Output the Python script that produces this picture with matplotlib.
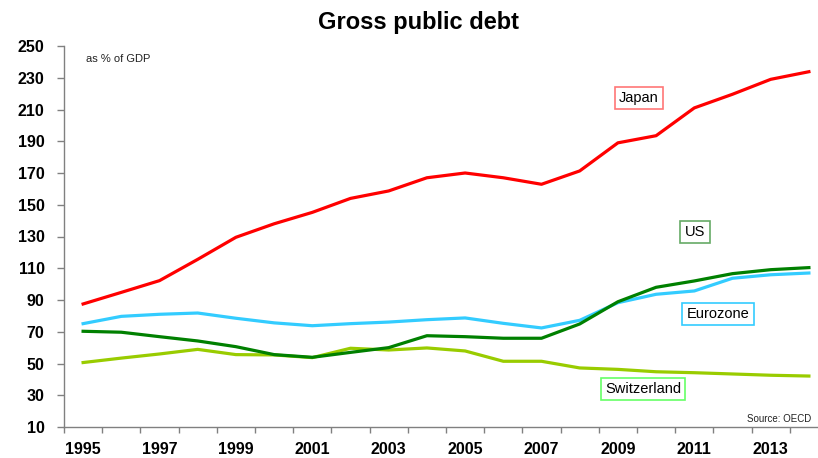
import matplotlib
matplotlib.use("Agg")
import matplotlib.pyplot as plt
from matplotlib.ticker import FixedLocator

plt.rcParams['font.family'] = ['Liberation Sans', 'DejaVu Sans']

years = list(range(1995, 2015))
japan = [87.5, 94.8, 102.2, 115.6, 129.5, 138.0, 145.2, 154.0, 158.7, 167.0,
         170.0, 167.0, 162.9, 171.3, 189.0, 193.5, 211.0, 219.6, 229.0, 233.8]
us = [70.3, 69.7, 66.9, 64.2, 60.6, 55.6, 53.9, 57.0, 60.0, 67.5,
      66.9, 65.9, 65.9, 74.9, 88.9, 98.0, 102.0, 106.6, 109.1, 110.4]
eurozone = [75.1, 79.7, 81.0, 81.8, 78.5, 75.6, 73.8, 75.1, 76.1, 77.6,
            78.7, 75.3, 72.4, 77.2, 88.3, 93.6, 95.7, 103.7, 105.9, 107.0]
switzerland = [50.6, 53.4, 56.0, 58.9, 55.6, 55.4, 53.7, 59.6, 58.5, 59.8,
               57.9, 51.4, 51.4, 47.2, 46.3, 44.8, 44.2, 43.4, 42.6, 42.1]
yticks = list(range(10, 251, 20))
xlabels = [str(y) for y in years[::2]]

W, H = 818, 458
fig = plt.figure(figsize=(W / 100, H / 100), dpi=100)
ax = fig.add_axes([64 / W, 31 / H, 764 / W, 381 / H])

x = list(range(len(years)))
ax.plot(x, switzerland, color='#99CC00', lw=2.3, solid_joinstyle='round', zorder=3)
ax.plot(x, eurozone, color='#33CCFF', lw=2.3, solid_joinstyle='round', zorder=4)
ax.plot(x, us, color='#008000', lw=2.3, solid_joinstyle='round', zorder=5)
ax.plot(x, japan, color='#FF0000', lw=2.3, solid_joinstyle='round', zorder=6)

ax.set_xlim(-0.5, len(years) - 0.5)
ax.set_ylim(10, 250)

for s in ('top', 'right'):
    ax.spines[s].set_visible(False)
for s in ('left', 'bottom'):
    ax.spines[s].set_color('#808080')
    ax.spines[s].set_linewidth(1.0)

ax.set_yticks(yticks)
ax.tick_params(axis='y', length=5, width=1, color='#808080', pad=9,
               labelsize=11.5)
for lab in ax.get_yticklabels():
    lab.set_fontweight('bold')

ax.set_xticks(x[::2])
ax.set_xticklabels(xlabels, fontweight='bold', fontsize=11.5)
ax.xaxis.set_minor_locator(FixedLocator([i - 0.5 for i in range(len(years) + 1)]))
ax.tick_params(axis='x', which='major', length=0, pad=11)
ax.tick_params(axis='x', which='minor', length=4, width=1, color='#808080')

fig.text(418 / W, 1 - 23 / H, 'Gross public debt', ha='center', va='center',
         fontsize=17, fontweight='bold')
ax.text(86 / W, 1 - 59 / H, 'as % of GDP', transform=fig.transFigure,
        ha='left', va='center', fontsize=8, color='#222222')
ax.text(811 / W, 1 - 419 / H, 'Source: OECD', transform=fig.transFigure,
        ha='right', va='center', fontsize=7, color='#222222')

labels = [
    ('Japan', 639, 98, '#FF7777'),
    ('US', 695, 232, '#66AA66'),
    ('Eurozone', 718, 314, '#33CCFF'),
    ('Switzerland', 643, 389, '#66FF66'),
]
for txt, px, py, ec in labels:
    fig.text(px / W, 1 - py / H, txt, ha='center', va='center', fontsize=10.5,
             bbox=dict(boxstyle='square,pad=0.3', fc='white', ec=ec, lw=1.2),
             zorder=10)

fig.savefig('out.png', dpi=100)
